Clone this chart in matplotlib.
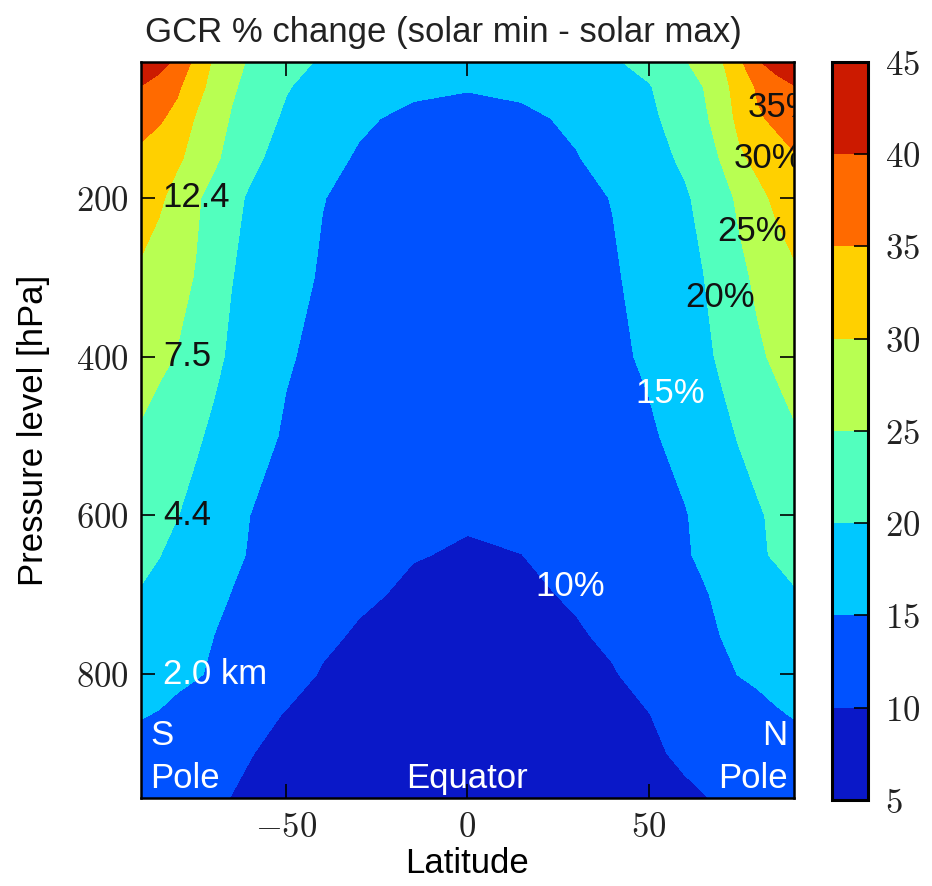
import numpy as np
import matplotlib
matplotlib.use('Agg')
import matplotlib.pyplot as plt

plt.rcParams['font.family'] = ['Liberation Sans', 'DejaVu Sans']
plt.rcParams['mathtext.fontset'] = 'cm'

# grid: latitude (deg) x pressure (hPa)
lats = [-90, -85, -80, -75, -70, -65, -60, -50, -40, -30, -15, 0,
        15, 30, 40, 50, 60, 65, 70, 75, 80, 85, 90]
pressures = [30, 60, 100, 150, 200, 300, 400, 500, 600, 650, 700, 750,
             800, 850, 900, 955]

# GCR % change, one row per pressure level
gcr_change = [
    [44.5, 41.9, 38.6, 33.7, 29.3, 26.6, 24.4, 21.3, 19.5, 18.2, 17.0, 16.5, 17.0, 18.2, 19.4, 21.4, 24.6, 26.9, 29.5, 34.0, 39.3, 42.1, 44.5],
    [39.8, 37.8, 35.8, 32.0, 28.3, 25.6, 23.7, 20.3, 18.3, 17.0, 15.8, 15.4, 15.8, 17.0, 18.0, 19.7, 23.2, 25.0, 28.3, 32.1, 35.6, 37.7, 39.7],
    [36.5, 35.6, 33.5, 29.7, 27.1, 24.6, 22.5, 19.3, 17.4, 15.6, 14.1, 13.0, 14.2, 15.7, 17.4, 19.1, 22.0, 24.0, 27.3, 31.3, 34.4, 35.9, 37.0],
    [34.0, 32.3, 30.7, 28.5, 25.9, 23.4, 21.0, 18.3, 16.2, 14.6, 13.3, 12.0, 13.4, 14.8, 16.4, 18.4, 20.7, 22.9, 25.3, 29.2, 31.3, 33.0, 34.6],
    [32.3, 30.7, 28.4, 25.7, 23.4, 21.1, 19.5, 17.3, 15.1, 14.1, 12.8, 11.5, 12.8, 14.2, 15.1, 17.3, 19.5, 21.1, 23.4, 25.8, 28.6, 30.9, 32.6],
    [29.2, 27.8, 26.3, 24.8, 22.5, 20.1, 18.9, 16.4, 14.6, 13.7, 12.4, 11.0, 12.3, 13.7, 14.6, 16.2, 18.7, 19.9, 21.9, 24.0, 25.8, 27.5, 29.2],
    [26.9, 25.9, 24.8, 22.9, 21.0, 19.3, 18.0, 15.3, 14.2, 13.3, 12.0, 10.7, 12.0, 13.4, 14.3, 15.5, 17.9, 19.1, 20.6, 22.4, 24.3, 25.7, 26.9],
    [24.5, 23.2, 21.9, 20.6, 19.2, 17.8, 16.4, 14.6, 13.7, 12.9, 11.7, 10.4, 11.6, 12.9, 13.7, 14.5, 16.2, 17.6, 18.9, 20.3, 21.7, 23.1, 24.5],
    [22.1, 21.1, 20.1, 18.8, 17.6, 16.3, 15.0, 13.8, 12.8, 11.9, 10.9, 10.2, 10.9, 11.9, 12.7, 13.6, 14.8, 15.9, 17.1, 18.3, 19.5, 20.8, 22.1],
    [20.95, 20.1, 18.8, 17.75, 16.7, 15.6, 14.8, 13.75, 12.7, 11.65, 10.1, 9.8, 9.97, 11.4, 12.5, 13.6, 14.7, 15.5, 16.8, 18.2, 19.5, 20.35, 20.95],
    [19.7, 18.7, 17.7, 16.8, 15.8, 14.9, 14.2, 12.9, 11.7, 10.4, 9.6, 9.0, 9.5, 10.3, 11.5, 12.8, 14.1, 14.7, 15.6, 16.6, 17.7, 18.7, 19.7],
    [18.2, 17.4, 16.6, 15.8, 15.02, 14.25, 13.5, 12.0, 10.5, 9.74, 9.1, 8.5, 9.1, 9.73, 10.5, 12.0, 13.5, 14.3, 15.06, 15.8, 16.6, 17.4, 18.2],
    [16.7, 16.2, 15.8, 15.3, 14.6, 13.8, 12.9, 11.1, 9.8, 9.4, 8.7, 8.0, 8.7, 9.4, 9.8, 11.0, 12.7, 13.6, 14.4, 15.1, 15.6, 16.1, 16.6],
    [15.2, 14.85, 14.1, 13.3, 12.55, 11.8, 11.0, 9.86, 9.45, 9.05, 8.4, 7.8, 8.45, 9.1, 9.5, 9.95, 11.25, 11.95, 12.65, 13.3, 14.0, 14.7, 15.2],
    [13.8, 13.1, 12.5, 11.9, 11.3, 10.6, 10.05, 9.6, 9.2, 8.8, 8.1, 7.5, 8.2, 8.8, 9.2, 9.7, 10.3, 10.8, 11.4, 11.9, 12.5, 13.0, 13.6],
    [12.1, 11.7, 11.2, 10.8, 10.4, 9.95, 9.75, 9.3, 8.9, 8.5, 7.85, 7.2, 7.85, 8.45, 8.9, 9.3, 9.7, 9.9, 10.3, 10.7, 11.2, 11.6, 12.1],
]

levels = [5, 10, 15, 20, 25, 30, 35, 40, 45]
xticks = [-50, 0, 50]
yticks = [200, 400, 600, 800]

# altitude labels at the pressure ticks
alt_labels = ['12.4', '7.5', '4.4', '2.0 km']
alt_pressures = [200, 400, 600, 800]

# percentage labels along the contours
pct_labels = ['35%', '30%', '25%', '20%', '15%', '10%']
pct_lat = [77.1, 73.3, 68.9, 60.0, 46.3, 18.7]
pct_p = [86, 150, 243, 325, 446, 690]

colors = ['#0a18c8', '#0052ff', '#00c8ff', '#52ffbe', '#b8ff52',
          '#ffd000', '#ff6a00', '#cc1a00']

fig = plt.figure(figsize=(9.32, 8.86), dpi=100)
ax = fig.add_axes([0.1513, 0.0993, 0.7006, 0.8307])

cs = ax.contourf(lats, pressures, np.array(gcr_change), levels=levels, colors=colors)
ax.set_xlim(-90, 90)
ax.set_ylim(956, 29)

ax.set_xticks(xticks, [f'${t}$' for t in xticks])
ax.set_yticks(yticks, [f'${t}$' for t in yticks])
ax.tick_params(direction='in', top=True, right=True, length=10, width=1.2,
               labelsize=25, pad=9, labelcolor='#222222')
for sp in ax.spines.values():
    sp.set_linewidth(1.8)

ax.set_xlabel('Latitude', fontsize=25)
ax.xaxis.set_label_coords(0.5, -0.066)
ax.set_ylabel('Pressure level [hPa]', fontsize=25)
ax.yaxis.set_label_coords(-0.139, 0.5)

for lab, p in zip(alt_labels, alt_pressures):
    c = 'white' if 'km' in lab else '#111111'
    ax.text(-84, p, lab, fontsize=25, color=c, ha='left', va='center')

for lab, la, p in zip(pct_labels, pct_lat, pct_p):
    c = 'white' if lab in ('15%', '10%') else '#111111'
    ax.text(la, p, lab, fontsize=25, color=c, ha='left', va='center', clip_on=True)

ax.text(-87.5, 889, 'S', fontsize=25, color='white', ha='left', va='baseline')
ax.text(-87.5, 943, 'Pole', fontsize=25, color='white', ha='left', va='baseline')
ax.text(88.3, 889, 'N', fontsize=25, color='white', ha='right', va='baseline')
ax.text(88.3, 943, 'Pole', fontsize=25, color='white', ha='right', va='baseline')
ax.text(0, 943, 'Equator', fontsize=25, color='white', ha='center', va='baseline')

fig.text(0.1556, 0.9526, 'GCR % change (solar min - solar max)', fontsize=25,
         color='#222222', ha='left', va='baseline')

cax = fig.add_axes([0.8927, 0.0971, 0.0386, 0.833])
cb = fig.colorbar(cs, cax=cax, ticks=levels)
cb.ax.set_yticklabels([f'${v}$' for v in levels])
cb.ax.tick_params(direction='in', length=10, width=1.2, labelsize=25, pad=12,
                  labelcolor='#222222')
cb.outline.set_linewidth(2.2)

fig.savefig('out.png', dpi=100)
